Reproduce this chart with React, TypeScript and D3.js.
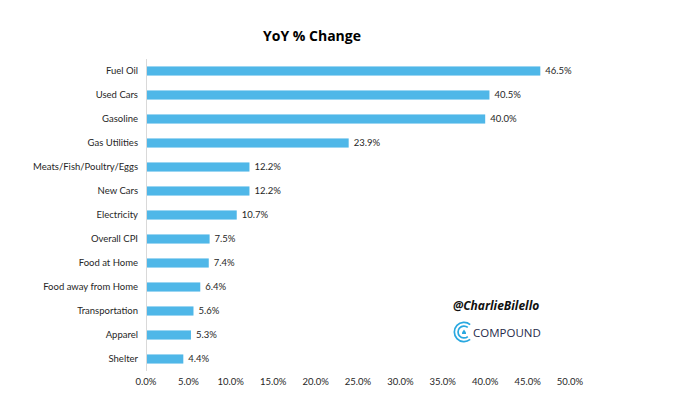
import React, { useEffect, useRef } from 'react';
import * as d3 from 'd3';

const categories = [
  'Fuel Oil', 'Used Cars', 'Gasoline', 'Gas Utilities', 'Meats/Fish/Poultry/Eggs',
  'New Cars', 'Electricity', 'Overall CPI', 'Food at Home', 'Food away from Home',
  'Transportation', 'Apparel', 'Shelter',
];
const values = [46.5, 40.5, 40.0, 23.9, 12.2, 12.2, 10.7, 7.5, 7.4, 6.4, 5.6, 5.3, 4.4];
const ticks = [0, 5, 10, 15, 20, 25, 30, 35, 40, 45, 50];

const W = 690;
const H = 406;
const FONT = 'Lato, "Liberation Sans", sans-serif';

const App = () => {
  const ref = useRef<SVGSVGElement>(null);

  useEffect(() => {
    const svg = d3.select(ref.current);
    svg.selectAll('*').remove();

    const x = d3.scaleLinear().domain([0, 50]).range([146, 570]);
    const y = d3.scaleBand().domain(categories).range([59, 371]).paddingInner(0.62).paddingOuter(0.31);

    // title
    svg.append('text')
      .attr('x', 312).attr('y', 41)
      .attr('text-anchor', 'middle')
      .style('font-family', '"Open Sans", sans-serif')
      .style('font-weight', 'bold')
      .style('font-size', '14px')
      .attr('fill', '#000')
      .text('YoY % Change');

    // bars
    svg.selectAll('.bar')
      .data(values)
      .enter().append('rect')
      .attr('class', 'bar')
      .attr('x', x(0))
      .attr('y', (d, i) => y(categories[i])!)
      .attr('width', d => x(d) - x(0))
      .attr('height', y.bandwidth())
      .attr('fill', '#4fb7e8');

    // axis line
    svg.append('line')
      .attr('x1', x(0) + 0.5).attr('x2', x(0) + 0.5)
      .attr('y1', 59).attr('y2', 371)
      .attr('stroke', '#d9d9d9').attr('stroke-width', 1);

    // category labels
    svg.selectAll('.cat')
      .data(categories)
      .enter().append('text')
      .attr('class', 'cat')
      .attr('x', 138)
      .attr('y', d => y(d)! + y.bandwidth() / 2)
      .attr('dy', '0.35em')
      .attr('text-anchor', 'end')
      .style('font-family', FONT)
      .style('font-size', '9.5px')
      .attr('fill', '#262626')
      .text(d => d);

    // value labels
    svg.selectAll('.val')
      .data(values)
      .enter().append('text')
      .attr('class', 'val')
      .attr('x', d => x(d) + 5)
      .attr('y', (d, i) => y(categories[i])! + y.bandwidth() / 2)
      .attr('dy', '0.35em')
      .style('font-family', FONT)
      .style('font-size', '9.5px')
      .attr('fill', '#262626')
      .text(d => d.toFixed(1) + '%');

    // x tick labels
    svg.selectAll('.tick')
      .data(ticks)
      .enter().append('text')
      .attr('class', 'tick')
      .attr('x', d => x(d))
      .attr('y', 382)
      .attr('dy', '0.35em')
      .attr('text-anchor', 'middle')
      .style('font-family', FONT)
      .style('font-size', '9.5px')
      .attr('fill', '#262626')
      .text(d => d.toFixed(1) + '%');

    // watermark
    svg.append('text')
      .attr('x', 453).attr('y', 310)
      .style('font-family', '"Open Sans", sans-serif')
      .style('font-weight', 'bold')
      .style('font-style', 'italic')
      .style('font-size', '12px')
      .attr('fill', '#111')
      .text('@CharlieBilello');

    const logo = svg.append('g').attr('transform', 'translate(464,332)');
    const arc = d3.arc();
    [10.5, 6.8].forEach(r => {
      logo.append('path')
        .attr('d', arc({ innerRadius: r - 1.7, outerRadius: r, startAngle: Math.PI * 0.78, endAngle: Math.PI * 2.22 }) as string)
        .attr('fill', '#29a8e0');
    });
    logo.append('path')
      .attr('d', 'M0,-2.5 L2,0.5 L2,2 L-2,2 L-2,0.5 Z')
      .attr('fill', '#29a8e0');

    svg.append('text')
      .attr('x', 473).attr('y', 333)
      .attr('dy', '0.36em')
      .style('font-family', '"Open Sans", sans-serif')
      .style('font-size', '11.5px')
      .attr('fill', '#1f2b4a')
      .text('COMPOUND');
  }, []);

  return (
    <svg ref={ref} width={W} height={H}
      style={{ position: 'absolute', left: 0, top: 0, background: '#fff' }} />
  );
};

export default App;
